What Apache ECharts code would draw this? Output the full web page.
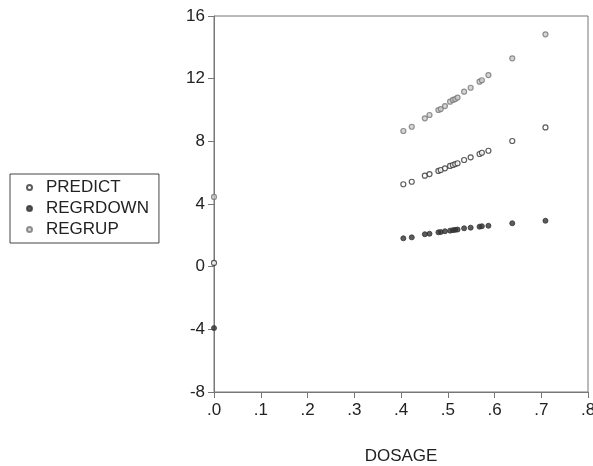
<!DOCTYPE html>
<html>
<head>
<meta charset="utf-8">
<script src="https://cdn.jsdelivr.net/npm/echarts@6/dist/echarts.min.js"></script>
<style>
html,body{margin:0;padding:0;background:#fff;}
#chart{width:593px;height:466px;}
</style>
</head>
<body>
<div id="chart"></div>
<script>
var dosage   = [0.000, 0.405, 0.423, 0.451, 0.461, 0.480, 0.485, 0.494, 0.505, 0.511, 0.516, 0.521, 0.535, 0.549, 0.568, 0.573, 0.587, 0.638, 0.709];
var predict  = [0.24, 5.26, 5.42, 5.81, 5.91, 6.11, 6.17, 6.28, 6.43, 6.49, 6.55, 6.60, 6.81, 6.98, 7.19, 7.27, 7.40, 8.02, 8.89];
var regrdown = [-3.92, 1.81, 1.87, 2.07, 2.10, 2.19, 2.21, 2.26, 2.30, 2.33, 2.35, 2.37, 2.45, 2.49, 2.55, 2.58, 2.61, 2.77, 2.93];
var regrup   = [4.45, 8.66, 8.93, 9.47, 9.68, 10.00, 10.06, 10.25, 10.53, 10.64, 10.70, 10.79, 11.17, 11.42, 11.81, 11.90, 12.23, 13.30, 14.83];
var xTicks = ['.0', '.1', '.2', '.3', '.4', '.5', '.6', '.7', '.8'];
var yTicks = ['-8', '-4', '0', '4', '8', '12', '16'];

function pairs(ys) { return dosage.map(function (x, i) { return [x, ys[i]]; }); }

var FONT = 'Liberation Sans, Arial, sans-serif';
var chart = echarts.init(document.getElementById('chart'), null, {renderer: 'canvas'});
chart.setOption({
  animation: false,
  backgroundColor: '#fff',
  textStyle: {fontFamily: FONT},
  grid: {left: 214, right: 5, top: 16, bottom: 74, containLabel: false, outerBoundsMode: 'none',
    show: true, borderColor: '#777', borderWidth: 1, backgroundColor: 'transparent'},
  legend: {
    orient: 'vertical', left: 10, top: 174,
    padding: [5, 10, 5, 16], itemGap: 4,
    itemWidth: 5, itemHeight: 5,
    borderColor: '#444', borderWidth: 1,
    textStyle: {fontFamily: FONT, fontSize: 17, color: '#222', padding: [0, 0, 0, 9]},
    data: ['PREDICT', 'REGRDOWN', 'REGRUP']
  },
  xAxis: {
    type: 'value', min: 0, max: 0.8, interval: 0.1,
    name: 'DOSAGE', nameLocation: 'middle', nameGap: 56,
    nameTextStyle: {fontFamily: FONT, fontSize: 17, color: '#222'},
    axisLine: {onZero: false, lineStyle: {color: '#777', width: 1}},
    axisTick: {show: true, length: 6, inside: false, lineStyle: {color: '#777'}},
    axisLabel: {fontFamily: FONT, fontSize: 17, color: '#222', margin: 10,
      formatter: function (v) { return xTicks[Math.round(v * 10)]; }},
    splitLine: {show: false}
  },
  yAxis: {
    type: 'value', min: -8, max: 16, interval: 4,
    axisLine: {show: true, onZero: false, lineStyle: {color: '#777', width: 1}},
    axisTick: {show: true, length: 6, inside: false, lineStyle: {color: '#777'}},
    axisLabel: {fontFamily: FONT, fontSize: 17, color: '#222', margin: 9,
      formatter: function (v) { return yTicks[Math.round((v + 8) / 4)]; }},
    splitLine: {show: false}
  },
  series: [
    {name: 'PREDICT', type: 'scatter', symbol: 'circle', symbolSize: 5, data: pairs(predict),
      itemStyle: {color: '#fff', borderColor: '#333', borderWidth: 1.2}},
    {name: 'REGRDOWN', type: 'scatter', symbol: 'circle', symbolSize: 5, data: pairs(regrdown),
      itemStyle: {color: '#333', borderColor: '#333', borderWidth: 1}},
    {name: 'REGRUP', type: 'scatter', symbol: 'circle', symbolSize: 5, data: pairs(regrup),
      itemStyle: {color: '#ccc', borderColor: '#777', borderWidth: 1.2}}
  ]
});
</script>
</body>
</html>
